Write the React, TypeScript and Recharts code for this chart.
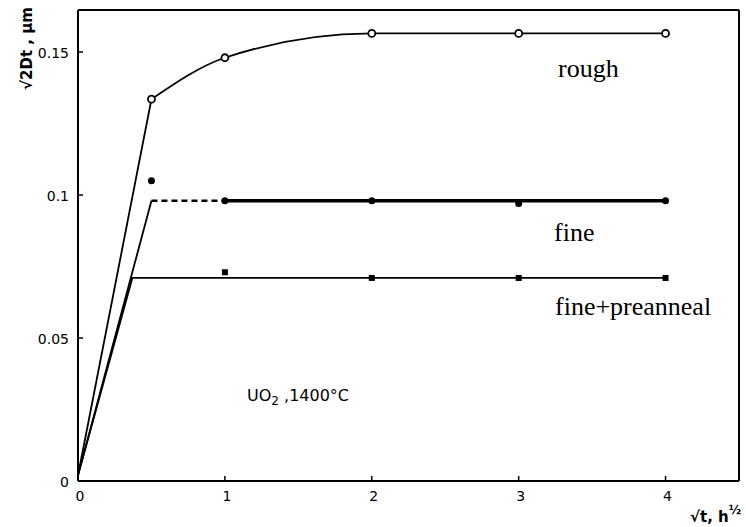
import React from "react";
import {
  ComposedChart,
  Line,
  Scatter,
  XAxis,
  YAxis,
  ReferenceLine,
} from "recharts";

// measured points, sqrt(t) in h^1/2
const hours = [0.5, 1, 2, 3, 4];
const roughValues = [0.1335, 0.148, 0.1565, 0.1565, 0.1565];
const fineValues = [0.105, 0.098, 0.098, 0.097, 0.098];
const preannealHours = [1, 2, 3, 4];
const preannealValues = [0.073, 0.071, 0.071, 0.071];

// fitted curves
const roughRiseX = [0, 0.5];
const roughRiseY = [0.002, 0.1335];
const fineRiseX = [0, 0.5];
const fineRiseY = [0.002, 0.098];
const fineGapX = [0.5, 1];
const fineGapY = [0.098, 0.098];
const fineFlatX = [1, 4];
const fineFlatY = [0.098, 0.098];
const preannealFitX = [0, 0.37, 4];
const preannealFitY = [0.002, 0.071, 0.071];

const xTicks = [0, 1, 2, 3, 4];
const yTicks = [0, 0.05, 0.1, 0.15];
const xMax = 4.5;
const yMax = 0.1647;

const toPoints = (xs: number[], ys: number[]) =>
  xs.map((x, i) => ({ x, y: ys[i] }));

const roughPts = toPoints(hours, roughValues);
const finePts = toPoints(hours, fineValues);
const preannealPts = toPoints(preannealHours, preannealValues);

const tickFont = "'DejaVu Sans', sans-serif";
const serif = "'Liberation Serif', 'Times New Roman', serif";

const YTick = (props: any) => {
  const { x, y, payload } = props;
  return (
    <g>
      {payload.value !== 0 && (
        <line x1={x} x2={x + 5} y1={y} y2={y} stroke="#000" strokeWidth={1.5} />
      )}
      <text
        x={x - 9}
        y={y + 6}
        textAnchor="end"
        fontSize={14}
        fontFamily={tickFont}
        fill="#000"
      >
        {payload.value === 0 ? "0" : String(payload.value)}
      </text>
    </g>
  );
};

const XTick = (props: any) => {
  const { x, y, payload } = props;
  return (
    <g>
      {payload.value !== 0 && (
        <line x1={x} x2={x} y1={y} y2={y - 5} stroke="#000" strokeWidth={1.5} />
      )}
      <text
        x={x + 2}
        y={y + 20}
        textAnchor="middle"
        fontSize={14}
        fontFamily={tickFont}
        fill="#000"
      >
        {payload.value}
      </text>
    </g>
  );
};

const OpenCircle = (props: any) => (
  <circle cx={props.cx} cy={props.cy} r={3.5} fill="#fff" stroke="#000" strokeWidth={1.8} />
);
const FilledDot = (props: any) => (
  <circle cx={props.cx} cy={props.cy} r={3.5} fill="#000" />
);
const SmallSquare = (props: any) => (
  <rect x={props.cx - 3} y={props.cy - 3} width={6} height={6} fill="#000" />
);

const App: React.FC = () => {
  return (
    <div style={{ position: "absolute", left: 0, top: 0, width: 746, height: 527, background: "#fff" }}>
      <ComposedChart
        width={746}
        height={527}
        margin={{ top: 10, right: 7, left: 0, bottom: 0 }}
      >
        <XAxis
          type="number"
          dataKey="x"
          domain={[0, xMax]}
          ticks={xTicks}
          height={46}
          tickSize={0}
          tickMargin={0}
          tickLine={false}
          axisLine={{ stroke: "#000", strokeWidth: 2 }}
          tick={<XTick />}
          allowDataOverflow
        />
        <YAxis
          type="number"
          dataKey="y"
          domain={[0, yMax]}
          ticks={yTicks}
          width={78}
          tickSize={0}
          tickMargin={0}
          tickLine={false}
          axisLine={{ stroke: "#000", strokeWidth: 2 }}
          tick={<YTick />}
          allowDataOverflow
        />
        <ReferenceLine y={yMax} stroke="#000" strokeWidth={2} />
        <ReferenceLine x={xMax} stroke="#000" strokeWidth={2} />

        {/* rough */}
        <Line data={toPoints(roughRiseX, roughRiseY)} dataKey="y" type="linear" stroke="#000" strokeWidth={1.8} dot={false} isAnimationActive={false} />
        <Line data={roughPts} dataKey="y" type="monotone" stroke="#000" strokeWidth={1.8} dot={false} isAnimationActive={false} />

        {/* fine */}
        <Line data={toPoints(fineRiseX, fineRiseY)} dataKey="y" type="linear" stroke="#000" strokeWidth={1.8} dot={false} isAnimationActive={false} />
        <Line data={toPoints(fineGapX, fineGapY)} dataKey="y" type="linear" stroke="#000" strokeWidth={2.5} strokeDasharray="6 4" dot={false} isAnimationActive={false} />
        <Line data={toPoints(fineFlatX, fineFlatY)} dataKey="y" type="linear" stroke="#000" strokeWidth={3.5} dot={false} isAnimationActive={false} />

        {/* fine + preanneal */}
        <Line data={toPoints(preannealFitX, preannealFitY)} dataKey="y" type="linear" stroke="#000" strokeWidth={1.8} dot={false} isAnimationActive={false} />

        <Scatter data={roughPts} dataKey="y" shape={<OpenCircle />} isAnimationActive={false} />
        <Scatter data={finePts} dataKey="y" shape={<FilledDot />} isAnimationActive={false} />
        <Scatter data={preannealPts} dataKey="y" shape={<SmallSquare />} isAnimationActive={false} />
      </ComposedChart>

      <svg
        width={746}
        height={527}
        style={{ position: "absolute", left: 0, top: 0, pointerEvents: "none" }}
      >
        <text x={558} y={77} fontSize={26} fontFamily={serif} fill="#000">rough</text>
        <text x={554} y={241} fontSize={26} fontFamily={serif} fill="#000">fine</text>
        <text x={555} y={315} fontSize={26} fontFamily={serif} fill="#000">fine+preanneal</text>

        <text x={247} y={401} fontSize={16} fontFamily={tickFont} fill="#000">
          UO<tspan fontSize={12} dy={4}>2</tspan>
          <tspan dy={-4}>{"  ,1400°C"}</tspan>
        </text>

        <text
          transform="translate(32, 90) rotate(-90)"
          fontSize={15}
          fontWeight="bold"
          fontFamily={tickFont}
          fill="#000"
        >
          √2Dt , µm
        </text>

        <text x={690} y={522} fontSize={15} fontWeight="bold" fontFamily={tickFont} fill="#000">
          √t, h<tspan fontSize={12} dy={-8}>½</tspan>
        </text>
      </svg>
    </div>
  );
};

export default App;
